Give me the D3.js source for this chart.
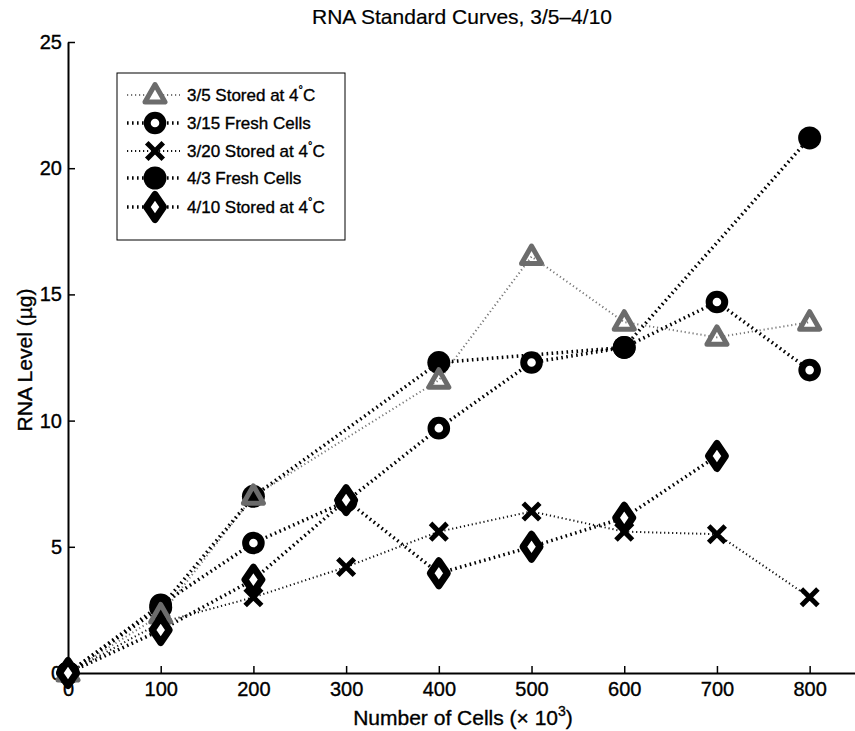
<!DOCTYPE html>
<html>
<head>
<meta charset="utf-8">
<script src="https://cdn.jsdelivr.net/npm/d3@7"></script>
<style>
  body { margin: 0; background: #fff; }
  svg { display: block; }
  text { font-family: "Liberation Sans", Arial, Helvetica, sans-serif; fill: #000; stroke: #000; stroke-width: 0.35px; }
</style>
</head>
<body>
<svg id="chart" width="855" height="731"></svg>
<script>
// Cell counts (x 10^3) and measured RNA levels (µg) for each batch
const xTicks = [0, 100, 200, 300, 400, 500, 600, 700, 800];
const yTicks = [0, 5, 10, 15, 20, 25];

const stored35X = [0, 100, 200, 400, 500, 600, 700, 800];
const stored35Y = [0, 2.3, 7.0, 11.6, 16.5, 13.9, 13.3, 13.9];

const fresh315X = [0, 100, 200, 300, 400, 500, 600, 700, 800];
const fresh315Y = [0, 2.7, 5.15, 6.8, 9.7, 12.3, 12.9, 14.7, 12.0];

const stored320X = [0, 100, 200, 300, 400, 500, 600, 700, 800];
const stored320Y = [0, 2.0, 3.0, 4.2, 5.6, 6.4, 5.6, 5.5, 3.0];

const fresh43X = [0, 100, 200, 400, 600, 800];
const fresh43Y = [0, 2.6, 7.0, 12.3, 12.9, 21.2];

const stored410X = [0, 100, 200, 300, 400, 500, 600, 700];
const stored410Y = [0, 1.7, 3.7, 6.85, 3.95, 5.0, 6.15, 8.6];

const seriesNames = ["3/5 Stored at 4", "3/15 Fresh Cells", "3/20 Stored at 4", "4/3 Fresh Cells", "4/10 Stored at 4"];
const seriesDegree = [true, false, true, false, true];

// Custom marker outlines
const triangleType = {
  draw(ctx, size) {
    const s = Math.sqrt(size) / 20;
    ctx.moveTo(0, -10.5 * s);
    ctx.lineTo(10 * s, 7 * s);
    ctx.lineTo(-10 * s, 7 * s);
    ctx.closePath();
  }
};
const diamondType = {
  draw(ctx, size) {
    const s = Math.sqrt(size) / 20;
    ctx.moveTo(0, -12.5 * s);
    ctx.lineTo(8.5 * s, 0);
    ctx.lineTo(0, 12.5 * s);
    ctx.lineTo(-8.5 * s, 0);
    ctx.closePath();
  }
};

const styles = [
  { line: { stroke: "#777", width: 2, dash: "1.2,2.8" },
    mark: { type: triangleType, size: 400, fill: "none", stroke: "#6c6c6c", sw: 5 } },
  { line: { stroke: "#000", width: 3.5, dash: "1.6,3.4" },
    mark: { type: d3.symbolCircle, size: Math.PI * 7.8 * 7.8, fill: "#fff", stroke: "#000", sw: 7 } },
  { line: { stroke: "#111", width: 2, dash: "1.2,2.8" },
    mark: { type: d3.symbolX, size: 180, fill: "none", stroke: "#000", sw: 5 } },
  { line: { stroke: "#000", width: 3.5, dash: "1.6,3.4" },
    mark: { type: d3.symbolCircle, size: Math.PI * 11.5 * 11.5, fill: "#000", stroke: "none", sw: 0 } },
  { line: { stroke: "#000", width: 3.5, dash: "1.6,3.4" },
    mark: { type: diamondType, size: 400, fill: "#fff", stroke: "#000", sw: 7 } }
];

const data = [
  { x: stored35X, y: stored35Y },
  { x: fresh315X, y: fresh315Y },
  { x: stored320X, y: stored320Y },
  { x: fresh43X, y: fresh43Y },
  { x: stored410X, y: stored410Y }
].map((s, i) => ({ i, pts: s.x.map((v, k) => [v, s.y[k]]) }));

const svg = d3.select("#chart");

const x = d3.scaleLinear().domain([0, 850]).range([68, 856]);
const y = d3.scaleLinear().domain([0, 25]).range([673, 42]);

// Axes with inward ticks
const xAxis = svg.append("g")
  .attr("transform", `translate(0,${y(0)})`)
  .call(d3.axisBottom(x).tickValues(xTicks).tickSizeInner(-7).tickSizeOuter(0).tickPadding(9));
const yAxis = svg.append("g")
  .attr("transform", `translate(${x(0)},0)`)
  .call(d3.axisLeft(y).tickValues(yTicks).tickSizeInner(-7).tickSizeOuter(0).tickPadding(6));
[xAxis, yAxis].forEach(g => {
  g.select(".domain").attr("stroke", "#000").attr("stroke-width", 2);
  g.selectAll(".tick line").attr("stroke", "#000").attr("stroke-width", 1.5);
  g.selectAll(".tick text").attr("font-size", 20).attr("fill", "#000")
    .style("font-family", '"Liberation Sans", Arial, sans-serif');
});

// Connecting dotted lines
const line = d3.line().x(d => x(d[0])).y(d => y(d[1]));
svg.append("g").selectAll("path").data(data).join("path")
  .attr("d", d => line(d.pts))
  .attr("fill", "none")
  .attr("stroke", d => styles[d.i].line.stroke)
  .attr("stroke-width", d => styles[d.i].line.width)
  .attr("stroke-dasharray", d => styles[d.i].line.dash);

// Markers, stacked in drawing order
const drawOrder = [1, 2, 3, 0, 4];
const markG = svg.append("g");
drawOrder.forEach(idx => {
  const st = styles[idx].mark;
  markG.append("g").selectAll("path").data(data[idx].pts).join("path")
    .attr("transform", d => `translate(${x(d[0])},${y(d[1])})`)
    .attr("d", d3.symbol().type(st.type).size(st.size))
    .attr("fill", st.fill)
    .attr("stroke", st.stroke)
    .attr("stroke-width", st.sw)
    .attr("stroke-linejoin", "round");
});

// Legend
const legend = svg.append("g");
legend.append("rect")
  .attr("x", 117).attr("y", 73).attr("width", 228).attr("height", 167)
  .attr("fill", "#fff").attr("stroke", "#000").attr("stroke-width", 1);
const legendY = [95, 123, 151, 178, 207];
seriesNames.forEach((name, i) => {
  const ly = legendY[i];
  const st = styles[i];
  legend.append("line")
    .attr("x1", 127).attr("x2", 180).attr("y1", ly).attr("y2", ly)
    .attr("stroke", st.line.stroke).attr("stroke-width", st.line.width)
    .attr("stroke-dasharray", st.line.dash);
  legend.append("path")
    .attr("transform", `translate(155,${ly})`)
    .attr("d", d3.symbol().type(st.mark.type).size(st.mark.size))
    .attr("fill", st.mark.fill === "none" ? "#fff" : st.mark.fill)
    .attr("stroke", st.mark.stroke)
    .attr("stroke-width", st.mark.sw)
    .attr("stroke-linejoin", "round");
  const t = legend.append("text")
    .attr("x", 187).attr("y", ly + 6)
    .attr("font-size", 17);
  t.append("tspan").text(name);
  if (seriesDegree[i]) {
    t.append("tspan").attr("font-size", 11).attr("dy", -8).text("°");
    t.append("tspan").attr("dy", 8).text("C");
  }
});

// Title and axis labels
svg.append("text")
  .attr("x", 462).attr("y", 24)
  .attr("text-anchor", "middle").attr("font-size", 21)
  .style("stroke-width", "0.2px")
  .text("RNA Standard Curves, 3/5\u20134/10");

const xl = svg.append("text")
  .attr("x", 463).attr("y", 725)
  .attr("text-anchor", "middle").attr("font-size", 21);
xl.append("tspan").text("Number of Cells (\u00d7 10");
xl.append("tspan").attr("font-size", 14).attr("dy", -9).text("3");
xl.append("tspan").attr("dy", 9).text(")");

svg.append("text")
  .attr("transform", "translate(32,360) rotate(-90)")
  .attr("text-anchor", "middle").attr("font-size", 21)
  .text("RNA Level (\u00b5g)");
</script>
</body>
</html>
